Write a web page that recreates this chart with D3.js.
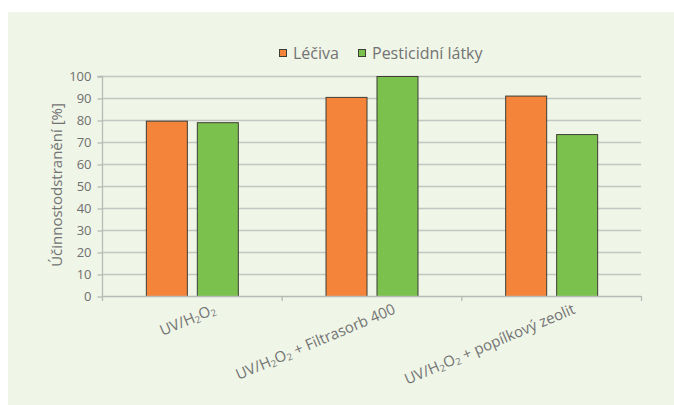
<!DOCTYPE html>
<html>
<head>
<meta charset="utf-8">
<script src="https://cdn.jsdelivr.net/npm/d3@7"></script>
<style>
  html, body { margin: 0; padding: 0; background: #ffffff; }
  svg { display: block; }
  text { font-family: "Open Sans", "Noto Sans", sans-serif; }
</style>
</head>
<body>
<svg id="chart" width="674" height="405"></svg>
<script>
// Removal efficiency per treatment variant
const categories = [
  [{t: "UV/H"}, {t: "2", sub: true}, {t: "O"}, {t: "2", sub: true}],
  [{t: "UV/H"}, {t: "2", sub: true}, {t: "O"}, {t: "2", sub: true}, {t: " + Filtrasorb 400"}],
  [{t: "UV/H"}, {t: "2", sub: true}, {t: "O"}, {t: "2", sub: true}, {t: " + popílkový zeolit"}]
];
const seriesNames = ["Léčiva", "Pesticidní látky"];
const lecivaValues = [79.7, 90.5, 91.1];
const pesticidyValues = [79.0, 100, 73.6];
const yTicks = [0, 10, 20, 30, 40, 50, 60, 70, 80, 90, 100];
const colors = ["#f5843b", "#7bc14e"];

const svg = d3.select("#chart");
const W = 674, H = 405;

// panel background
svg.append("rect").attr("x", 8).attr("y", 12)
  .attr("width", W - 8).attr("height", H - 12)
  .attr("fill", "#eff5e7");

const plot = {left: 102, right: 641, top: 76, bottom: 296};

const x0 = d3.scaleBand()
  .domain(d3.range(categories.length))
  .range([plot.left, plot.right])
  .paddingInner(0).paddingOuter(0);

const x1 = d3.scaleBand()
  .domain(d3.range(seriesNames.length))
  .range([0, x0.bandwidth()])
  .paddingInner(0.196).paddingOuter(0.86);

const y = d3.scaleLinear().domain([0, 100]).range([plot.bottom, plot.top]);

// gridlines
svg.append("g").selectAll("line")
  .data(yTicks.filter(d => d > 0))
  .join("line")
  .attr("x1", plot.left).attr("x2", plot.right)
  .attr("y1", d => y(d) + 0.5).attr("y2", d => y(d) + 0.5)
  .attr("stroke", "#c4c6c2").attr("stroke-width", 1.3);

// y axis
const yAxis = d3.axisLeft(y).tickValues(yTicks).tickSize(5).tickPadding(6);
const gy = svg.append("g").attr("transform", `translate(${plot.left + 0.5},0.5)`).call(yAxis);
gy.select(".domain").attr("stroke", "#b8bab6").attr("stroke-width", 1.3).attr("d", `M-5,${plot.top}H0V${plot.bottom}`);
gy.selectAll(".tick line").attr("stroke", "#b8bab6").attr("stroke-width", 1.3);
gy.selectAll(".tick text").attr("fill", "#6f6f6f").attr("font-size", 13)
  .attr("font-family", "'Open Sans', sans-serif");

// bars
const data = categories.map((c, i) => [lecivaValues[i], pesticidyValues[i]]);
const groups = svg.append("g").selectAll("g")
  .data(data).join("g")
  .attr("transform", (d, i) => `translate(${x0(i)},0)`);
groups.selectAll("rect")
  .data(d => d.map((v, k) => ({v, k})))
  .join("rect")
  .attr("x", d => x1(d.k) + 0.5)
  .attr("y", d => y(d.v) + 0.5)
  .attr("width", x1.bandwidth())
  .attr("height", d => y(0) - y(d.v))
  .attr("fill", d => colors[d.k])
  .attr("stroke", "#3d3d35").attr("stroke-width", 1);

// x axis line and category boundary ticks
svg.append("line")
  .attr("x1", plot.left).attr("x2", plot.right)
  .attr("y1", plot.bottom + 0.5).attr("y2", plot.bottom + 0.5)
  .attr("stroke", "#b8bab6").attr("stroke-width", 1.3);
const bounds = d3.range(categories.length + 1).map(i => i < categories.length ? x0(i) : plot.right);
svg.append("g").selectAll("line").data(bounds).join("line")
  .attr("x1", d => d + 0.5).attr("x2", d => d + 0.5)
  .attr("y1", plot.bottom).attr("y2", plot.bottom + 5)
  .attr("stroke", "#b8bab6").attr("stroke-width", 1.3);

// rotated category labels with subscripted formula digits
categories.forEach((parts, i) => {
  const cx = x0(i) + x0.bandwidth() / 2 + 25;
  const t = svg.append("text")
    .attr("transform", `translate(${cx},${plot.bottom + 17}) rotate(-23)`)
    .attr("text-anchor", "end")
    .attr("fill", "#737373")
    .attr("font-size", 15);
  let prevSub = false;
  parts.forEach(p => {
    const s = t.append("tspan").text(p.t);
    if (p.sub) s.attr("font-size", 9.5);
    if (p.sub && !prevSub) s.attr("dy", 2);
    else if (!p.sub && prevSub) s.attr("dy", -2);
    prevSub = !!p.sub;
  });
});

// y axis title
svg.append("text")
  .attr("transform", `translate(62,185) rotate(-90)`)
  .attr("text-anchor", "middle")
  .attr("fill", "#737373")
  .attr("font-size", 15)
  .text("Účinnostodstranění [%]");

// legend
const legend = svg.append("g");
const legendItems = [{x: 279, name: seriesNames[0], c: colors[0]}, {x: 358, name: seriesNames[1], c: colors[1]}];
legendItems.forEach(d => {
  legend.append("rect").attr("x", d.x + 0.5).attr("y", 49.5)
    .attr("width", 7).attr("height", 7)
    .attr("fill", d.c).attr("stroke", "#3d3d35").attr("stroke-width", 1);
  legend.append("text").attr("x", d.x + 14).attr("y", 59)
    .attr("fill", "#737373").attr("font-size", 16)
    .text(d.name);
});
</script>
</body>
</html>
